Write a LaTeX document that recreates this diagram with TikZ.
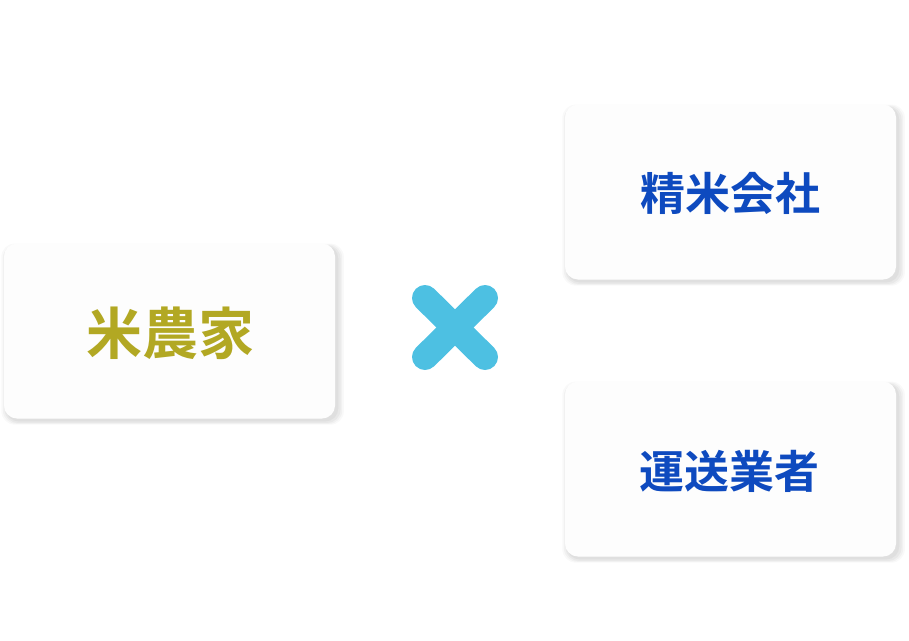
\documentclass[tikz,border=0pt]{standalone}
\usepackage{fontspec}
\newfontfamily\cjk{Noto Sans CJK JP}[BoldFont={Noto Sans CJK JP Bold}]
\usetikzlibrary{shadows}
\definecolor{olivetxt}{HTML}{B2A823}
\definecolor{bluetxt}{HTML}{0E4ABF}
\definecolor{crossblue}{HTML}{4DC0E2}
\definecolor{cardfill}{HTML}{FDFDFD}
\tikzset{
  card/.style={fill=cardfill, draw=none, rounded corners=13pt,
    minimum width=331pt, minimum height=175pt, inner sep=0pt,
    drop shadow={shadow xshift=3pt, shadow yshift=-3pt, opacity=.025, fill=black, shadow scale=1.035},
    drop shadow={shadow xshift=3pt, shadow yshift=-3pt, opacity=.03, fill=black, shadow scale=1.025},
    drop shadow={shadow xshift=3pt, shadow yshift=-3pt, opacity=.035, fill=black, shadow scale=1.015},
    drop shadow={shadow xshift=2.5pt, shadow yshift=-2.5pt, opacity=.04, fill=black, shadow scale=1.005}},
  bigtxt/.style={font=\cjk\bfseries\fontsize{56}{60}\selectfont, text=olivetxt},
  smalltxt/.style={font=\cjk\bfseries\fontsize{45}{50}\selectfont, text=bluetxt},
  crossline/.style={line width=26pt, line cap=round, draw=crossblue}
}
\begin{document}
\begin{tikzpicture}[x=1pt,y=-1pt]
\useasboundingbox (0,0) rectangle (909,640);
\node[card] (farmer) at (169.5,331) {};
\node[bigtxt] (farmertxt) at (170,333) {米農家};
\node[card] (mill) at (730.5,192) {};
\node[smalltxt] (milltxt) at (730,193) {精米会社};
\node[card] (carrier) at (730.5,469) {};
\node[smalltxt] (carriertxt) at (729,471) {運送業者};
\coordinate (ca) at (425,298);
\coordinate (cb) at (485,357);
\coordinate (cc) at (485,298);
\coordinate (cd) at (425,357);
\draw[crossline] (ca) -- (cb);
\draw[crossline] (cc) -- (cd);
\end{tikzpicture}
\end{document}
